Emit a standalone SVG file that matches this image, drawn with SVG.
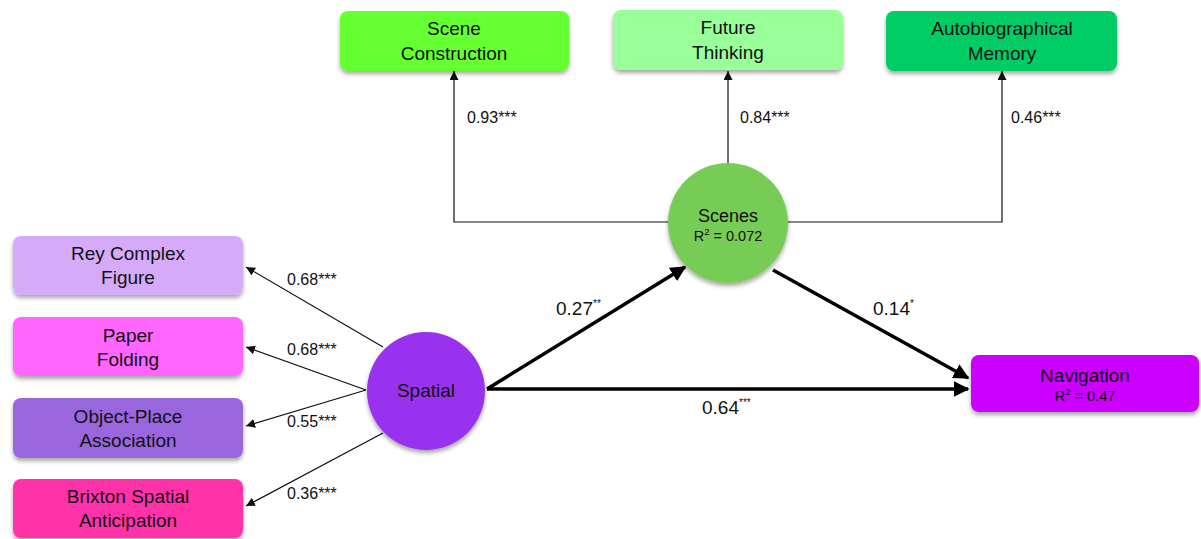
<svg xmlns="http://www.w3.org/2000/svg" width="1201" height="539" viewBox="0 0 1201 539">
<style>
text{font-family:"Liberation Sans",Arial,sans-serif;fill:#111}
.bx{font-size:19px;text-anchor:middle}
.lb{font-size:16px}
.lg{font-size:19px}
.sup{font-size:10px}
.r2{font-size:14.5px;text-anchor:middle}
.r2s{font-size:9.5px}
.thin{stroke:#111;stroke-width:1.2;fill:none}
.thick{stroke:#000;stroke-width:3.5;fill:none}
</style>
<defs>
<filter id="sh" x="-10%" y="-10%" width="120%" height="140%">
<feDropShadow dx="0" dy="3" stdDeviation="2" flood-color="#000" flood-opacity="0.35"/>
</filter>
<marker id="ah" viewBox="0 0 10 10" refX="10" refY="5" markerWidth="9" markerHeight="9" markerUnits="userSpaceOnUse" orient="auto">
<path d="M0,0 L10,5 L0,10 z" fill="#111"/>
</marker>
<marker id="ahb" viewBox="0 0 10 10" refX="9" refY="5" markerWidth="4.5" markerHeight="4.5" orient="auto">
<path d="M0,0 L10,5 L0,10 z" fill="#000"/>
</marker>
</defs>
<rect width="1201" height="539" fill="#fff"/>

<g id="connectors">
<polyline class="thin" points="669,222 454,222 454,71" marker-end="url(#ah)"/>
<line class="thin" x1="728" y1="163" x2="728" y2="71" marker-end="url(#ah)"/>
<polyline class="thin" points="788,222 1002,222 1002,71" marker-end="url(#ah)"/>
<line class="thin" x1="383" y1="347" x2="246" y2="267" marker-end="url(#ah)"/>
<line class="thin" x1="366" y1="390" x2="246" y2="347" marker-end="url(#ah)"/>
<line class="thin" x1="366" y1="390" x2="246" y2="426" marker-end="url(#ah)"/>
<line class="thin" x1="383" y1="433" x2="246" y2="506" marker-end="url(#ah)"/>
<line class="thick" x1="487" y1="389" x2="685" y2="267" marker-end="url(#ahb)"/>
<line class="thick" x1="773" y1="270" x2="968" y2="378" marker-end="url(#ahb)"/>
<line class="thick" x1="487" y1="389" x2="968" y2="389" marker-end="url(#ahb)"/>
<text class="lb" x="467" y="123">0.93***</text>
<text class="lb" x="740" y="123">0.84***</text>
<text class="lb" x="1011" y="123">0.46***</text>
<text class="lb" x="287" y="285">0.68***</text>
<text class="lb" x="287" y="355">0.68***</text>
<text class="lb" x="287" y="427">0.55***</text>
<text class="lb" x="287" y="499">0.36***</text>
<text class="lg" x="556" y="315">0.27<tspan class="sup" dy="-8">**</tspan></text>
<text class="lg" x="873" y="315">0.14<tspan class="sup" dy="-8">*</tspan></text>
<text class="lg" x="702" y="414">0.64<tspan class="sup" dy="-8">***</tspan></text>
</g>

<g id="scene-construction">
<rect x="340" y="11" width="229" height="60" rx="8" fill="#66ff33" filter="url(#sh)"/>
<text class="bx" x="454" y="35">Scene</text>
<text class="bx" x="454" y="60">Construction</text>
</g>
<g id="future-thinking">
<rect x="613" y="10" width="230" height="60" rx="8" fill="#99ff99" filter="url(#sh)"/>
<text class="bx" x="728" y="34">Future</text>
<text class="bx" x="728" y="59">Thinking</text>
</g>
<g id="autobiographical-memory">
<rect x="886" y="11" width="231" height="60" rx="8" fill="#00cc66" filter="url(#sh)"/>
<text class="bx" x="1002" y="35">Autobiographical</text>
<text class="bx" x="1002" y="60">Memory</text>
</g>

<g id="rey">
<rect x="13" y="236" width="230" height="59" rx="8" fill="#d5aaf9" filter="url(#sh)"/>
<text class="bx" x="128" y="260">Rey Complex</text>
<text class="bx" x="128" y="284">Figure</text>
</g>
<g id="paper">
<rect x="13" y="317" width="230" height="59" rx="8" fill="#ff66ff" filter="url(#sh)"/>
<text class="bx" x="128" y="342">Paper</text>
<text class="bx" x="128" y="366">Folding</text>
</g>
<g id="object-place">
<rect x="13" y="398" width="230" height="60" rx="8" fill="#9966dd" filter="url(#sh)"/>
<text class="bx" x="128" y="423">Object-Place</text>
<text class="bx" x="128" y="447">Association</text>
</g>
<g id="brixton">
<rect x="13" y="479" width="230" height="59" rx="8" fill="#ff33aa" filter="url(#sh)"/>
<text class="bx" x="128" y="503">Brixton Spatial</text>
<text class="bx" x="128" y="527">Anticipation</text>
</g>

<g id="spatial">
<circle cx="426" cy="391" r="59" fill="#9933ee" filter="url(#sh)"/>
<text class="bx" x="426" y="397">Spatial</text>
</g>
<g id="scenes">
<circle cx="728" cy="223" r="60" fill="#77cc55" filter="url(#sh)"/>
<text x="728" y="222" style="font-size:18px;text-anchor:middle">Scenes</text>
<text class="r2" x="728" y="241">R<tspan class="r2s" dy="-6">2</tspan><tspan dy="6"> = 0.072</tspan></text>
</g>
<g id="navigation">
<rect x="971" y="355" width="228" height="57" rx="8" fill="#cc00ff" filter="url(#sh)"/>
<text class="bx" x="1085" y="382">Navigation</text>
<text class="r2" x="1085" y="401">R<tspan class="r2s" dy="-6">2</tspan><tspan dy="6"> = 0.47</tspan></text>
</g>
</svg>
